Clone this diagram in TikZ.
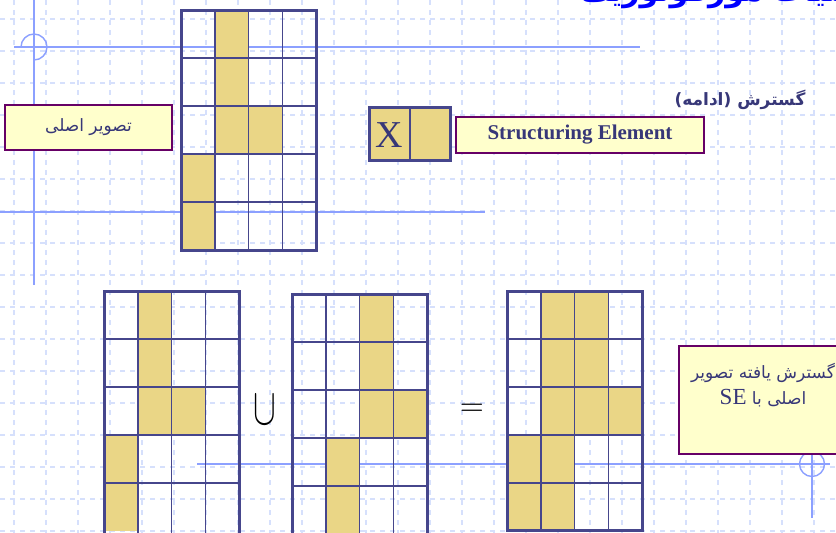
\documentclass[tikz,border=0pt]{standalone}
\usepackage{fontspec}
\setmainfont{Liberation Serif}
\newfontfamily\arabicfont[Script=Arabic]{DejaVu Sans}
\TeXXeTstate=1
\definecolor{navyline}{RGB}{70,70,140}
\definecolor{navytext}{RGB}{55,55,120}
\definecolor{cellfill}{RGB}{234,214,134}
\definecolor{paleyellow}{RGB}{255,255,204}
\definecolor{plumline}{RGB}{102,0,102}
\definecolor{bggrid}{RGB}{214,224,252}
\definecolor{bgline}{RGB}{140,160,255}
\definecolor{titleblue}{RGB}{0,0,255}
\newcommand{\morphgrid}[4]{% x0, y0, frame height, filled cells c/r
  \foreach \c/\r in {#4} \fill[cellfill] (#1+\c*33.75,#2+\r*48) rectangle ++(33.75,48);
  \foreach \i in {1,2,3} \draw[innerline] (#1+\i*33.75,#2) -- ++(0,#3);
  \foreach \j in {1,...,4} \draw[innerline] (#1,#2+\j*48) -- ++(135,0);
  \draw[outerline] (#1,#2) rectangle ++(135,#3);
}
\begin{document}
\begin{tikzpicture}[x=1pt,y=-1pt,
  innerline/.style={navyline,line width=1.5pt},
  outerline/.style={navyline,line width=3pt},
  bgdash/.style={bggrid,line width=1.1pt,dash pattern=on 5pt off 5pt},
  bgsolid/.style={bgline,line width=1.4pt},
  labelbox/.style={draw=plumline,fill=paleyellow,line width=1.6pt,inner sep=0pt,text=navytext},
  fatext/.style={font=\arabicfont\fontsize{17}{20}\selectfont}]
\useasboundingbox (0,0) rectangle (836,533);
% background grid
\foreach \k in {0,...,25} \draw[bgdash] (14+\k*32,0) -- (14+\k*32,533);
\foreach \k in {0,...,16} \draw[bgdash] (0,19+\k*32) -- (836,19+\k*32);
% template lines
\draw[bgsolid] (34,0) -- (34,285);
\draw[bgsolid] (14,47) -- (640,47);
\draw[bgsolid] (34,47) ++(-13,0) arc[start angle=180,end angle=450,radius=13];
\draw[bgsolid] (0,212) -- (485,212);
\draw[bgsolid] (197,464) -- (830,464);
\draw[bgsolid] (812,380) -- (812,518);
\draw[bgsolid] (812,464) circle[radius=12.5];
% title
\node[anchor=base east,inner sep=0pt,text=titleblue] (title) at (880,1)
  {\arabicfont\bfseries\fontsize{30}{36}\selectfont\beginR عملیات مورفولوژیک\endR};
% grids
\morphgrid{181}{10}{240}{1/0,1/1,1/2,2/2,0/3,0/4}
\morphgrid{104}{291}{246}{1/0,1/1,1/2,2/2,0/3,0/4}
\morphgrid{292}{294}{246}{2/0,2/1,2/2,3/2,1/3,1/4}
\morphgrid{507}{291}{239}{1/0,2/0,1/1,2/1,1/2,2/2,3/2,0/3,1/3,0/4,1/4}
% structuring element
\fill[cellfill] (369,107) rectangle (450,160);
\draw[innerline] (410,107) -- (410,160);
\draw[outerline] (369,107) rectangle (450,160);
\node[text=navytext,font=\fontsize{38}{38}\selectfont,inner sep=0pt] (x) at (389.5,135) {X};
% labels
\node[labelbox,minimum width=167pt,minimum height=45pt,fatext] (orig) at (88.5,127.5)
  {\beginR تصویر اصلی\endR};
\node[labelbox,minimum width=248pt,minimum height=36pt,font=\bfseries\fontsize{21}{24}\selectfont] (se) at (580,135)
  {Structuring Element};
\node[text=navytext,font=\arabicfont\bfseries\fontsize{17}{20}\selectfont,inner sep=0pt] (head) at (740,100)
  {\beginR گسترش (ادامه)\endR};
\node[labelbox,minimum width=170pt,minimum height=108pt,anchor=north west] (res) at (678,345) {};
\node[text=navytext,align=center,font=\arabicfont\fontsize{17}{26}\selectfont,inner sep=0pt] (restext) at (763,385)
  {\beginR گسترش یافته تصویر\endR\\\beginR اصلی با \beginL{\fontspec{Liberation Serif}\fontsize{23}{26}\selectfont SE}\endL\endR};
% operators
\node[inner sep=0pt] (cup) at (265,410) {\scalebox{3.4}[5.2]{$\cup$}};
\node[inner sep=0pt] (eq) at (472,410) {\scalebox{3.1}{$=$}};
\end{tikzpicture}
\end{document}
